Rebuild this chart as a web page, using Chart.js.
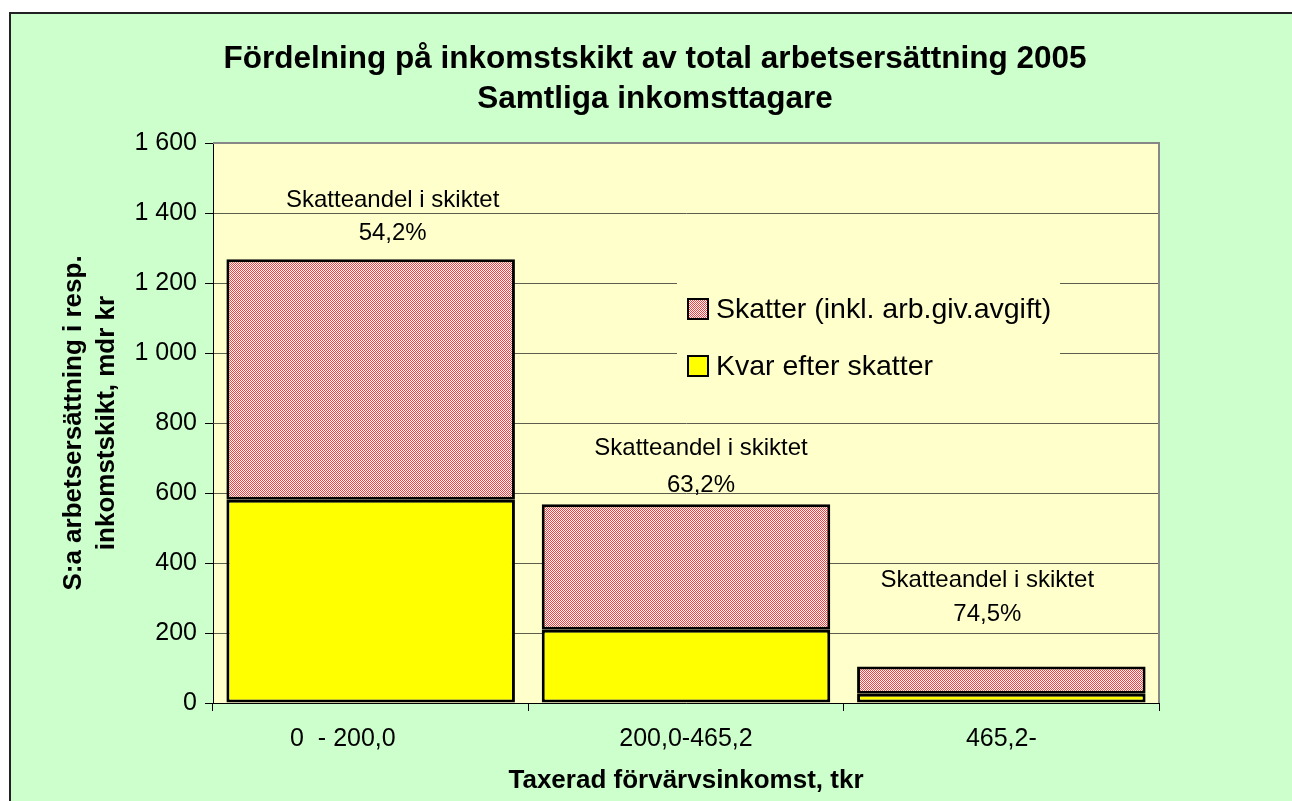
<!DOCTYPE html>
<html>
<head>
<meta charset="utf-8">
<script src="https://cdn.jsdelivr.net/npm/chart.js@4"></script>
<style>
  html, body { margin: 0; padding: 0; background: #fff; overflow: hidden; }
  canvas { display: block; }
</style>
</head>
<body>
<canvas id="grafico" width="1292" height="801"></canvas>
<script>
const kategorier = ['0  - 200,0        ', '200,0-465,2', '465,2-'];
const kvarEfterSkatter = [581, 209, 26.5];
const skatter = [687, 359, 77.5];
const skatteandel = ['54,2%', '63,2%', '74,5%'];
const yEtiketter = ['0', '200', '400', '600', '800', '1 000', '1 200', '1 400', '1 600'];

const titelRader = ['Fördelning på inkomstskikt av total arbetsersättning 2005', 'Samtliga inkomsttagare'];
const yTitelRader = ['S:a arbetsersättning i resp.', 'inkomstskikt, mdr kr'];
const xTitel = 'Taxerad förvärvsinkomst, tkr';
const andelText = 'Skatteandel i skiktet';

const FONT = '"Liberation Sans", Arial, sans-serif';

function skapaMonster() {
  const c = document.createElement('canvas');
  c.width = 2;
  c.height = 2;
  const p = c.getContext('2d');
  p.fillStyle = '#ffffff';
  p.fillRect(0, 0, 2, 2);
  p.fillStyle = '#ff3b3b';
  p.fillRect(0, 0, 1, 1);
  p.fillRect(1, 1, 1, 1);
  return p.createPattern(c, 'repeat');
}

const monster = skapaMonster();

// textplacering runt staplarna (pixlar: x-förskjutning, baslinjer)
const andelPos = [
  { dx: 22, y1: 207, y2: 240 },
  { dx: 15, y1: 455, y2: 492 },
  { dx: -14, y1: 587, y2: 621 }
];

const ritaExtra = {
  id: 'ritaExtra',
  beforeDraw(chart) {
    const ctx = chart.ctx;
    const a = chart.chartArea;
    ctx.save();
    ctx.fillStyle = '#ffffff';
    ctx.fillRect(0, 0, chart.width, chart.height);
    ctx.fillStyle = '#ccffcc';
    ctx.fillRect(10, 13, chart.width, chart.height);
    ctx.strokeStyle = '#222';
    ctx.lineWidth = 2;
    ctx.beginPath();
    ctx.moveTo(10, chart.height);
    ctx.lineTo(10, 13);
    ctx.lineTo(chart.width, 13);
    ctx.stroke();
    ctx.fillStyle = '#ffffcc';
    ctx.fillRect(a.left, a.top, a.right - a.left, a.bottom - a.top);
    ctx.restore();
  },
  afterDraw(chart) {
    const ctx = chart.ctx;
    const a = chart.chartArea;
    const x = chart.scales.x;
    ctx.save();

    // ram runt diagramytan
    ctx.strokeStyle = '#888888';
    ctx.lineWidth = 2;
    ctx.beginPath();
    ctx.moveTo(a.left, a.top);
    ctx.lineTo(a.right, a.top);
    ctx.lineTo(a.right, a.bottom);
    ctx.stroke();

    // förklaring
    ctx.fillStyle = '#ffffcc';
    ctx.fillRect(677, 268, 383, 125);
    const poster = [
      { text: chart.data.datasets[1].label, farg: monster, y: 309 },
      { text: chart.data.datasets[0].label, farg: '#ffff00', y: 366 }
    ];
    ctx.font = '28.5px ' + FONT;
    ctx.textBaseline = 'middle';
    ctx.textAlign = 'left';
    poster.forEach(p => {
      ctx.fillStyle = p.farg;
      ctx.fillRect(688, p.y - 10, 20, 20);
      ctx.strokeStyle = '#000';
      ctx.lineWidth = 2;
      ctx.strokeRect(688, p.y - 10, 20, 20);
      ctx.fillStyle = '#000';
      ctx.fillText(p.text, 716, p.y + 1);
    });

    // skatteandel ovanför staplarna
    ctx.font = '24px ' + FONT;
    ctx.textAlign = 'center';
    ctx.textBaseline = 'alphabetic';
    skatteandel.forEach((v, i) => {
      const cx = x.getPixelForValue(i) + andelPos[i].dx;
      ctx.fillText(andelText, cx, andelPos[i].y1);
      ctx.fillText(v, cx, andelPos[i].y2);
    });

    // rubrik
    ctx.font = 'bold 31.5px ' + FONT;
    ctx.fillText(titelRader[0], 655, 68);
    ctx.fillText(titelRader[1], 655, 108);

    // axeltitlar
    ctx.font = 'bold 26px ' + FONT;
    ctx.fillText(xTitel, (a.left + a.right) / 2, 788);
    ctx.translate(0, (a.top + a.bottom) / 2);
    ctx.rotate(-Math.PI / 2);
    ctx.textBaseline = 'middle';
    ctx.fillText(yTitelRader[0], 0, 74);
    ctx.fillText(yTitelRader[1], 0, 107);
    ctx.restore();
  }
};

const grafico = new Chart(document.getElementById('grafico').getContext('2d'), {
  type: 'bar',
  data: {
    labels: kategorier,
    datasets: [
      {
        label: 'Kvar efter skatter',
        data: kvarEfterSkatter,
        backgroundColor: '#ffff00',
        borderColor: '#000000',
        borderWidth: 3,
        borderSkipped: false,
        barPercentage: 0.915,
        categoryPercentage: 1
      },
      {
        label: 'Skatter (inkl. arb.giv.avgift)',
        data: skatter,
        backgroundColor: monster,
        borderColor: '#000000',
        borderWidth: 3,
        borderSkipped: false,
        barPercentage: 0.915,
        categoryPercentage: 1
      }
    ]
  },
  options: {
    responsive: false,
    animation: false,
    devicePixelRatio: 1,
    layout: { padding: { top: 143, right: 133, bottom: 0, left: 0 } },
    plugins: {
      legend: { display: false },
      title: { display: false },
      tooltip: { enabled: false }
    },
    scales: {
      x: {
        stacked: true,
        offset: true,
        grid: { offset: true, drawOnChartArea: false, drawTicks: true, tickLength: 8, tickColor: '#000' },
        border: { color: '#000', width: 1 },
        ticks: { color: '#000', font: { size: 25, family: FONT }, padding: 13, maxRotation: 0, autoSkip: false },
        afterFit(s) { s.height = 98; }
      },
      y: {
        stacked: true,
        min: 0,
        max: 1600,
        grid: { color: '#5e5e50', lineWidth: 1, tickColor: '#000', tickLength: 8 },
        border: { color: '#000', width: 1 },
        ticks: {
          stepSize: 200,
          color: '#000',
          font: { size: 25, family: FONT },
          padding: 8,
          callback: (v, i) => yEtiketter[i]
        },
        afterFit(s) { s.width = 213; }
      }
    }
  },
  plugins: [ritaExtra]
});
</script>
</body>
</html>
